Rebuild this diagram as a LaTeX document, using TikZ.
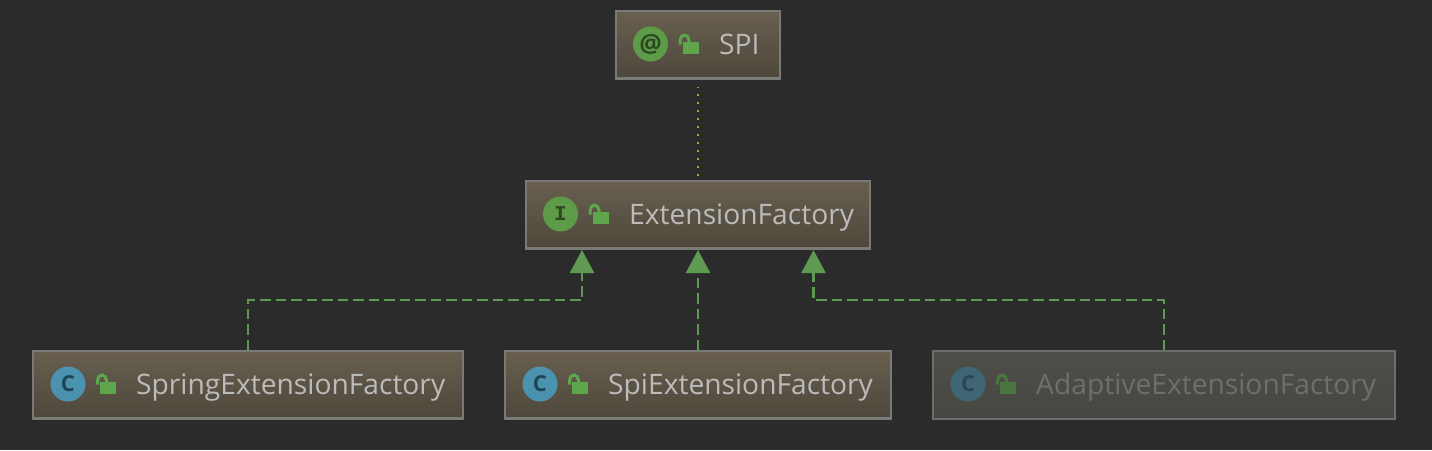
\documentclass[tikz,border=0pt]{standalone}
\usepackage{fontspec}
\setmainfont{Open Sans}
\newfontfamily\glyphmono{Liberation Mono}
\usetikzlibrary{arrows.meta,calc}
\definecolor{bgc}{HTML}{2B2B2B}
\definecolor{boxtop}{HTML}{685F4F}
\definecolor{boxbot}{HTML}{4D473B}
\definecolor{edge}{HTML}{7A7A78}
\definecolor{labelc}{HTML}{BBBBBB}
\definecolor{implc}{HTML}{5F9A52}
\definecolor{dotc}{HTML}{8CB030}
\definecolor{igreen}{HTML}{5E9B48}
\definecolor{iglyph}{HTML}{2C4A22}
\definecolor{lockc}{HTML}{5DA64B}
\definecolor{iblue}{HTML}{4A92AD}
\definecolor{iblyph}{HTML}{1F4257}
\definecolor{dimtop}{HTML}{4F4D47}
\definecolor{dimbot}{HTML}{474742}
\definecolor{dimedge}{HTML}{6C6C6A}
\definecolor{dimlabel}{HTML}{6F6F6A}
\definecolor{dimblue}{HTML}{3F6675}
\definecolor{dimblyph}{HTML}{2E4651}
\definecolor{dimlock}{HTML}{4A7540}
\tikzset{
  classbox/.style={draw=edge,line width=2pt,top color=boxtop,bottom color=boxbot,minimum height=68pt,inner sep=0pt,outer sep=1pt},
  dimbox/.style={classbox,draw=dimedge,top color=dimtop,bottom color=dimbot},
  label text/.style={text=labelc,font=\fontsize{28.2}{30}\selectfont,anchor=base west,inner sep=0pt},
  dim text/.style={label text,text=dimlabel},
  impl/.style={draw=implc,line width=2.4pt,dash pattern=on 10.5pt off 5pt,-{Triangle[length=23pt,width=24pt,fill=implc]}},
  realize/.style={draw=dotc,line width=1.6pt,dash pattern=on 1.6pt off 6.4pt},
  badge/.style={circle,minimum size=35pt,inner sep=0pt},
}
% #1 name, #2 circle centre x, #3 centre y, #4 circle colour, #5 glyph colour, #6 lock colour, #7 glyph
\newcommand{\iconrow}[7]{%
  \node[badge,fill=#4,text=#5] (#1c) at (#2,#3) {#7};
  \fill[#6] (#2+32,#3-2) rectangle (#2+48,#3+10);
  \draw[#6,line width=3pt] (#2+29.5,#3+0.5) -- (#2+29.5,#3-3.5) arc[start angle=180,end angle=0,x radius=4.5,y radius=-5.5] -- (#2+38.5,#3-2);
}
\begin{document}
\begin{tikzpicture}[x=1pt,y=-1pt]
\useasboundingbox[fill=bgc] (0,0) rectangle (1432,450);
% boxes
\node[classbox,minimum width=164pt] (spi) at (698,45) {};
\node[classbox,minimum width=344pt] (ef) at (698,215) {};
\node[classbox,minimum width=430pt] (spring) at (248,385) {};
\node[classbox,minimum width=386pt] (spif) at (698,385) {};
\node[dimbox,minimum width=462pt] (adapt) at (1164,385) {};
% bottom edge emphasis
\foreach \n/\c in {spi/edge,ef/edge,spring/edge,spif/edge}{\draw[\c,line width=2.5pt] ($(\n.south west)+(1,-2)$) -- ($(\n.south east)+(-1,-2)$);}
% icons
\iconrow{spii}{650.5}{44}{igreen}{iglyph}{lockc}{\bfseries\fontsize{25}{25}\selectfont @}
\iconrow{efi}{560.5}{214}{igreen}{iglyph}{lockc}{\glyphmono\bfseries\fontsize{21}{21}\selectfont I}
\iconrow{spr}{68}{384}{iblue}{iblyph}{lockc}{\bfseries\fontsize{22}{22}\selectfont C}
\iconrow{sif}{540}{384}{iblue}{iblyph}{lockc}{\bfseries\fontsize{22}{22}\selectfont C}
\iconrow{adi}{968}{384}{dimblue}{dimblyph}{dimlock}{\bfseries\fontsize{22}{22}\selectfont C}
% labels
\node[label text] (spit) at (719,54) {SPI};
\node[label text] (eft) at (629,224) {ExtensionFactory};
\node[label text] (sprt) at (136,394) {SpringExtensionFactory};
\node[label text] (sift) at (608,394) {SpiExtensionFactory};
\node[dim text] (adt) at (1036,394) {AdaptiveExtensionFactory};
% connectors
\coordinate (t1) at (582,250);
\coordinate (t3) at (813.5,250);
\coordinate (m1) at (248,300);
\coordinate (m3) at (1164,300);
\draw[realize,shorten >=7pt,shorten <=4pt] (ef.north) -- (spi.south);
\draw[impl] (spring.north) -- (m1) -| (t1);
\draw[impl] (spif.north) -- (ef.south);
\draw[impl] (adapt.north) -- (m3) -| (t3);
\end{tikzpicture}
\end{document}
